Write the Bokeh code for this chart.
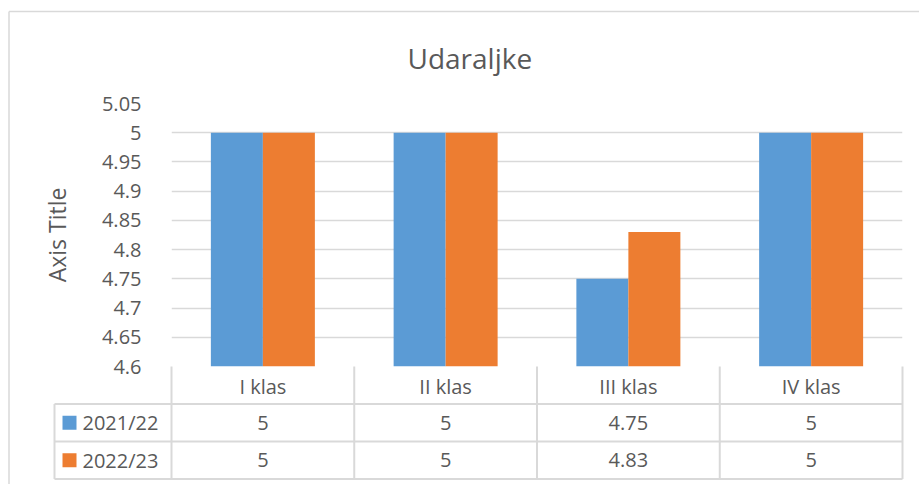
from bokeh.plotting import figure
from bokeh.models import FactorRange, Range1d, FixedTicker, ColumnDataSource
from bokeh.transform import dodge
from bokeh.core.properties import value
from bokeh.embed import file_html
from bokeh.resources import INLINE

# ---- data ----
categories = ["I klas", "II klas", "III klas", "IV klas"]
series_names = ["2021/22", "2022/23"]
values_2021_22 = [5, 5, 4.75, 5]
values_2022_23 = [5, 5, 4.83, 5]
labels_2021_22 = ["5", "5", "4.75", "5"]
labels_2022_23 = ["5", "5", "4.83", "5"]
y_ticks = [4.6, 4.65, 4.7, 4.75, 4.8, 4.85, 4.9, 4.95, 5.0, 5.05]
y_tick_labels = ["4.6", "4.65", "4.7", "4.75", "4.8", "4.85", "4.9", "4.95", "5", "5.05"]
series_colors = ["#5B9BD5", "#ED7D31"]
chart_title = "Udaraljke"
y_axis_title = "Axis Title"

# ---- layout ----
FONT = "Open Sans"
TXT = "#595959"
GRID = "#D9D9D9"
W, H = 919, 484
BL, BR, BT, BB = 171, 17, 103, 118
FW = W - BL - BR
FH = H - BT - BB
YMIN, YMAX = y_ticks[0], y_ticks[-1]
PX_X = FW / len(categories)          # pixels per category
PX_Y = FH / (YMAX - YMIN)            # pixels per y unit
ROW = 37.5 / PX_Y                    # table row height in data units
LEG_COL = 117 / PX_X                 # legend column width in category units
BAR_W = 52 / PX_X

p = figure(width=W, height=H,
           x_range=FactorRange(factors=categories, range_padding=0, factor_padding=0),
           y_range=Range1d(YMIN, YMAX),
           output_backend="svg", toolbar_location=None,
           min_border_left=BL, min_border_right=BR,
           min_border_top=BT, min_border_bottom=BB)
p.outline_line_color = None
p.background_fill_color = "white"
p.border_fill_color = "white"

# title
p.title.text = chart_title
p.title.text_font = FONT
p.title.text_font_size = "28px"
p.title.text_font_style = "normal"
p.title.text_color = TXT
p.title.align = "left"
p.title.offset = 236
p.title.standoff = 54

# grid
p.xgrid.grid_line_color = None
p.ygrid.ticker = FixedTicker(ticks=y_ticks)
p.ygrid.grid_line_color = GRID
p.ygrid.grid_line_width = 1.5

# y axis
p.yaxis.ticker = FixedTicker(ticks=y_ticks)
p.yaxis.major_label_overrides = {t: l for t, l in zip(y_ticks, y_tick_labels)}
p.yaxis.axis_line_color = None
p.yaxis.major_tick_line_color = None
p.yaxis.minor_tick_line_color = None
p.yaxis.major_label_text_font = FONT
p.yaxis.major_label_text_font_size = "20px"
p.yaxis.major_label_text_color = TXT
p.yaxis.major_label_standoff = 24
p.yaxis.axis_label = y_axis_title
p.yaxis.axis_label_text_font = FONT
p.yaxis.axis_label_text_font_size = "23px"
p.yaxis.axis_label_text_font_style = "normal"
p.yaxis.axis_label_text_color = TXT
p.yaxis.axis_label_standoff = 26

# x axis (category header row of the data table)
p.xaxis.axis_line_color = None
p.xaxis.major_tick_line_color = None
p.xaxis.minor_tick_line_color = None
p.xaxis.major_label_text_font = FONT
p.xaxis.major_label_text_font_size = "20px"
p.xaxis.major_label_text_color = TXT
p.xaxis.major_label_standoff = 0

# bars
src = ColumnDataSource(dict(cat=categories, s1=values_2021_22, s2=values_2022_23,
                            l1=labels_2021_22, l2=labels_2022_23))
p.vbar(x=dodge("cat", -BAR_W / 2, range=p.x_range), top="s1", bottom=YMIN,
       width=BAR_W, source=src, fill_color=series_colors[0], line_color=None)
p.vbar(x=dodge("cat", BAR_W / 2, range=p.x_range), top="s2", bottom=YMIN,
       width=BAR_W, source=src, fill_color=series_colors[1], line_color=None)

# ---- data table below the plot ----
n = len(categories)
y_hdr_bottom = YMIN - ROW
y_r1_bottom = YMIN - 2 * ROW
y_r2_bottom = YMIN - 3 * ROW
x_left = -LEG_COL

hx0 = [x_left, x_left, x_left]
hx1 = [n, n, n]
hy = [y_hdr_bottom, y_r1_bottom, y_r2_bottom]
p.segment(x0=hx0, y0=hy, x1=hx1, y1=hy, line_color=GRID, line_width=2, level="overlay")
vx = [x_left] + list(range(n + 1))
vy0 = [y_hdr_bottom] + [YMIN] * (n + 1)
vy1 = [y_r2_bottom] * (n + 2)
p.segment(x0=vx, y0=vy0, x1=vx, y1=vy1, line_color=GRID, line_width=2, level="overlay")

row_c1 = YMIN - 1.5 * ROW
row_c2 = YMIN - 2.5 * ROW
p.text(x=dodge("cat", 0, range=p.x_range), y=row_c1, text="l1", source=src,
       text_font=value(FONT), text_font_size="20px", text_color=TXT,
       text_align="center", text_baseline="middle", level="overlay")
p.text(x=dodge("cat", 0, range=p.x_range), y=row_c2, text="l2", source=src,
       text_font=value(FONT), text_font_size="20px", text_color=TXT,
       text_align="center", text_baseline="middle", level="overlay")

# legend keys in the table
for i, (name, col) in enumerate(zip(series_names, series_colors)):
    yc = YMIN - (1.5 + i) * ROW
    p.rect(x=[x_left + 15 / PX_X], y=[yc], width=14, height=14,
           width_units="screen", height_units="screen",
           fill_color=col, line_color=None, level="overlay")
    p.text(x=[x_left + 28 / PX_X], y=[yc], text=[name],
           text_font=value(FONT), text_font_size="20px", text_color=TXT,
           text_align="left", text_baseline="middle", level="overlay")

# chart border (left and top edges of the chart area)
bx = -(BL - 8.5) / PX_X
by_top = YMAX + (BT - 11) / PX_Y
by_bot = YMIN - BB / PX_Y
p.segment(x0=[bx, bx], y0=[by_bot, by_top], x1=[bx, n + BR / PX_X], y1=[by_top, by_top],
          line_color=GRID, line_width=1.5, level="overlay")

open("out.html", "w").write(file_html(p, INLINE))
